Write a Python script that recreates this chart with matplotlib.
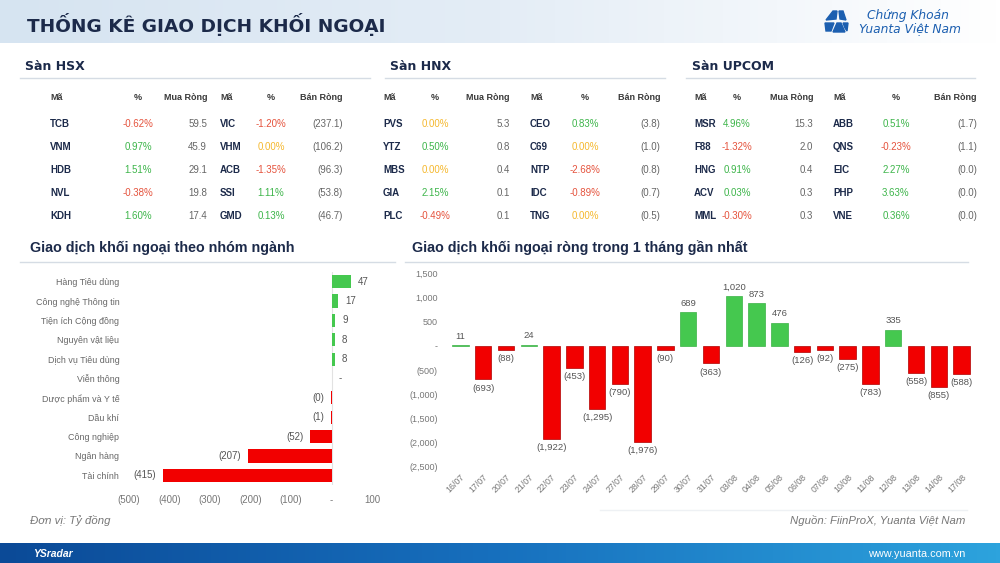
import numpy as np
import matplotlib.pyplot as plt
from matplotlib.patches import Polygon
from matplotlib.colors import LinearSegmentedColormap

# ---- table data (top 5 net buy / net sell per exchange) ----
hsx_buy_codes = ["TCB", "VNM", "HDB", "NVL", "KDH"]
hsx_buy_pct = [-0.62, 0.97, 1.51, -0.38, 1.60]
hsx_buy_val = [59.5, 45.9, 29.1, 19.8, 17.4]
hsx_sell_codes = ["VIC", "VHM", "ACB", "SSI", "GMD"]
hsx_sell_pct = [-1.20, 0.00, -1.35, 1.11, 0.13]
hsx_sell_val = [-237.1, -106.2, -96.3, -53.8, -46.7]

hnx_buy_codes = ["PVS", "YTZ", "MBS", "GIA", "PLC"]
hnx_buy_pct = [0.00, 0.50, 0.00, 2.15, -0.49]
hnx_buy_val = [5.3, 0.8, 0.4, 0.1, 0.1]
hnx_sell_codes = ["CEO", "C69", "NTP", "IDC", "TNG"]
hnx_sell_pct = [0.83, 0.00, -2.68, -0.89, 0.00]
hnx_sell_val = [-3.8, -1.0, -0.8, -0.7, -0.5]

upc_buy_codes = ["MSR", "F88", "HNG", "ACV", "MML"]
upc_buy_pct = [4.96, -1.32, 0.91, 0.03, -0.30]
upc_buy_val = [15.3, 2.0, 0.4, 0.3, 0.3]
upc_sell_codes = ["ABB", "QNS", "EIC", "PHP", "VNE"]
upc_sell_pct = [0.51, -0.23, 2.27, 3.63, 0.36]
upc_sell_val = [-1.7, -1.1, -0.04, -0.03, -0.02]

# ---- sector chart ----
sectors = ["Hàng Tiêu dùng", "Công nghệ Thông tin", "Tiện ích Cộng đồng",
           "Nguyên vật liệu", "Dịch vụ Tiêu dùng", "Viễn thông",
           "Dược phẩm và Y tế", "Dầu khí", "Công nghiệp", "Ngân hàng", "Tài chính"]
sector_vals = [47, 17, 9, 8, 8, 0, -0.3, -1, -52, -207, -415]

# ---- daily net flow, last month ----
dates = ["16/07", "17/07", "20/07", "21/07", "22/07", "23/07", "24/07", "27/07",
         "28/07", "29/07", "30/07", "31/07", "03/08", "04/08", "05/08", "06/08",
         "07/08", "10/08", "11/08", "12/08", "13/08", "14/08", "17/08"]
daily_net = [11, -693, -88, 24, -1922, -453, -1295, -790, -1976, -90, 689, -363,
             1020, 873, 476, -126, -92, -275, -783, 335, -558, -855, -588]

W, H = 1000, 563
FONT = ['Liberation Sans', 'DejaVu Sans']
WIDE = ['DejaVu Sans', 'Liberation Sans']
plt.rcParams['font.family'] = FONT

GREEN = "#45C84F"
RED = "#F20000"
NAVY = "#1C2A4A"
GREY = "#666666"


def px_axes(fig, x0, y0, x1, y1):
    return fig.add_axes([x0 / W, 1 - y1 / H, (x1 - x0) / W, (y1 - y0) / H])


def acct(v, dec=0):
    if v == 0:
        return "-"
    s = f"{abs(v):,.{dec}f}"
    return s if v > 0 else f"({s})"


def pct_color(p):
    if p > 0:
        return "#3DB54A"
    if p < 0:
        return "#E5533D"
    return "#F5B82E"


def draw_table(ax, title, tx, cols, line, c1, p1, v1, c2, p2, v2):
    xc1, xp1, xv1, xc2, xp2, xv2 = cols
    ax.text(tx, 66, title, fontsize=9, fontweight="bold", color=NAVY, va="center",
            family=WIDE)
    ax.plot(line, [78, 78], color="#D5DCE4", lw=1)
    hy = 98
    hk = dict(fontsize=6.5, fontweight="bold", color="#3A3A3A", va="center")
    ax.text(xc1, hy, "Mã", ha="left", **hk)
    ax.text(xp1, hy, "%", ha="center", **hk)
    ax.text(xv1, hy, "Mua Ròng", ha="right", **hk)
    ax.text(xc2, hy, "Mã", ha="left", **hk)
    ax.text(xp2, hy, "%", ha="center", **hk)
    ax.text(xv2, hy, "Bán Ròng", ha="right", **hk)
    for i, y in enumerate([124, 147, 170, 193, 216]):
        ax.text(xc1, y, c1[i], ha="left", va="center", fontsize=7, fontweight="bold", color=NAVY)
        ax.text(xp1, y, f"{p1[i]:.2f}%", ha="center", va="center", fontsize=7, color=pct_color(p1[i]))
        ax.text(xv1, y, acct(v1[i], 1), ha="right", va="center", fontsize=7, color=GREY)
        ax.text(xc2, y, c2[i], ha="left", va="center", fontsize=7, fontweight="bold", color=NAVY)
        ax.text(xp2, y, f"{p2[i]:.2f}%", ha="center", va="center", fontsize=7, color=pct_color(p2[i]))
        ax.text(xv2, y, acct(v2[i], 1), ha="right", va="center", fontsize=7, color=GREY)


fig = plt.figure(figsize=(10, 5.63), dpi=100)
bg = fig.add_axes([0, 0, 1, 1])

# header and footer bands
head_cmap = LinearSegmentedColormap.from_list("head", ["#D6E4F1", "#E4EDF6", "#FFFFFF"])
foot_cmap = LinearSegmentedColormap.from_list("foot", ["#0B4A97", "#1770BE", "#2DA3DD"])
grad = np.linspace(0, 1, 256)[None, :]
bg.imshow(grad, cmap=head_cmap, extent=(0, 1000, 43, 0), aspect="auto")
bg.imshow(grad, cmap=foot_cmap, extent=(0, 1000, 563, 543), aspect="auto")
bg.set_xlim(0, W)
bg.set_ylim(H, 0)
bg.axis("off")

bg.text(27, 25, "THỐNG KÊ GIAO DỊCH KHỐI NGOẠI", fontsize=13.3, fontweight="bold",
        color=NAVY, va="center", family=WIDE)

# logo
icon = [[(833, 11), (837, 11), (836, 19), (826, 20)],
        [(839, 11), (843, 11), (846, 20), (840, 19)],
        [(825, 23), (834, 23), (831, 31), (826, 31)],
        [(837, 23), (841, 23), (845, 32), (833, 32)],
        [(843, 23), (848, 23), (847, 31), (845, 28)]]
for pts in icon:
    bg.add_patch(Polygon(pts, closed=True, color="#1C5FB0"))
bg.text(867, 16, "Chứng Khoán", fontsize=8.8, style="italic", color="#1C5FB0", va="center",
        family=WIDE)
bg.text(859, 29, "Yuanta Việt Nam", fontsize=8.8, style="italic", color="#1C5FB0", va="center",
        family=WIDE)

# tables
draw_table(bg, "Sàn HSX", 25, (50, 138, 207, 220, 271, 343), (20, 370),
           hsx_buy_codes, hsx_buy_pct, hsx_buy_val, hsx_sell_codes, hsx_sell_pct, hsx_sell_val)
draw_table(bg, "Sàn HNX", 390, (383, 435, 510, 530, 585, 660), (385, 665),
           hnx_buy_codes, hnx_buy_pct, hnx_buy_val, hnx_sell_codes, hnx_sell_pct, hnx_sell_val)
draw_table(bg, "Sàn UPCOM", 692, (694, 737, 813, 833, 896, 977), (686, 975),
           upc_buy_codes, upc_buy_pct, upc_buy_val, upc_sell_codes, upc_sell_pct, upc_sell_val)

# chart titles
bg.text(30, 248, "Giao dịch khối ngoại theo nhóm ngành", fontsize=10.3, fontweight="bold",
        color=NAVY, va="center")
bg.plot([20, 395], [262, 262], color="#D5DCE4", lw=1)
bg.text(412, 248, "Giao dịch khối ngoại ròng trong 1 tháng gần nhất", fontsize=10.3,
        fontweight="bold", color=NAVY, va="center")
bg.plot([405, 968], [262, 262], color="#D5DCE4", lw=1)

# footnotes
bg.text(30, 521, "Đơn vị: Tỷ đồng", fontsize=8.2, style="italic", color="#777777", va="center")
bg.plot([600, 967], [510, 510], color="#EEF1F4", lw=1)
bg.text(965, 521, "Nguồn: FiinProX, Yuanta Việt Nam", fontsize=8.2, style="italic",
        color="#777777", va="center", ha="right")
bg.text(33, 554, "YSradar", fontsize=7.5, style="italic", fontweight="bold", color="white", va="center")
bg.text(965, 554, "www.yuanta.com.vn", fontsize=7.8, color="white", va="center", ha="right")

# ---- sector bar chart ----
ax1 = px_axes(fig, 129, 272, 372, 485)
ax1.patch.set_alpha(0)
ypos = np.arange(len(sectors))
cols1 = [GREEN if v > 0 else RED for v in sector_vals]
ax1.barh(ypos, sector_vals, height=0.68, color=cols1)
ax1.axvline(0, color="#E2E2E2", lw=0.8, zorder=0)
for y, v in zip(ypos, sector_vals):
    ax1.annotate(acct(v), (v, y), xytext=(5 if v >= 0 else -5, 0), textcoords="offset points",
                 ha="left" if v >= 0 else "right", va="center", fontsize=7, color="#555555")
ax1.set_xlim(-500, 100)
ax1.set_ylim(len(sectors) - 0.5, -0.5)
ax1.set_yticks(ypos)
ax1.set_yticklabels(sectors, fontsize=6.4, color="#666666")
xt = [-500, -400, -300, -200, -100, 0, 100]
ax1.set_xticks(xt)
ax1.set_xticklabels([acct(v) for v in xt], fontsize=7, color="#777777")
ax1.tick_params(length=0, axis="y", pad=7)
ax1.tick_params(length=0, axis="x", pad=7)
for s in ax1.spines.values():
    s.set_visible(False)

# ---- daily net flow chart ----
ax2 = px_axes(fig, 449, 273, 973, 467)
ax2.patch.set_alpha(0)
xpos = np.arange(len(dates))
cols2 = [GREEN if v > 0 else RED for v in daily_net]
edges = ["#3BB145" if v > 0 else "#B00000" for v in daily_net]
ax2.bar(xpos, daily_net, width=0.72, color=cols2, edgecolor=edges, linewidth=0.5)
for x, v in zip(xpos, daily_net):
    ax2.annotate(acct(v), (x, v), xytext=(0, 3 if v > 0 else -3), textcoords="offset points",
                 ha="center", va="bottom" if v > 0 else "top", fontsize=6.8, color="#555555")
ax2.set_xlim(-0.5, len(dates) - 0.5)
ax2.set_ylim(-2500, 1500)
yt = [1500, 1000, 500, 0, -500, -1000, -1500, -2000, -2500]
ax2.set_yticks(yt)
ax2.set_yticklabels([acct(v) for v in yt], fontsize=6.5, color="#777777")
ax2.set_xticks(xpos)
ax2.set_xticklabels(dates, rotation=45, ha="right", rotation_mode="anchor",
                    fontsize=6.3, color="#777777")
ax2.tick_params(length=0, axis="y", pad=8)
ax2.tick_params(length=0, axis="x", pad=4)
for s in ax2.spines.values():
    s.set_visible(False)

fig.savefig("out.png", dpi=100)
